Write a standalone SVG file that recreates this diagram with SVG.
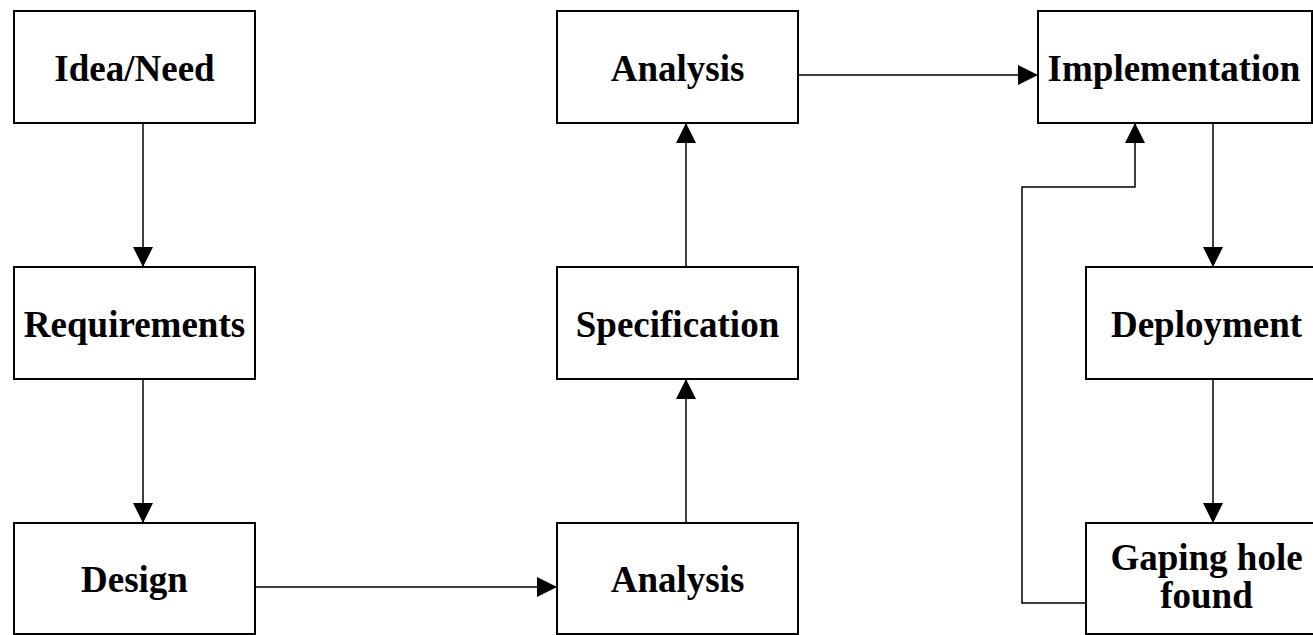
<svg xmlns="http://www.w3.org/2000/svg" width="1313" height="635" viewBox="0 0 1313 635">
<style>
.box{fill:#fff;stroke:#000;stroke-width:2}
.lbl{font-family:"Liberation Serif","Times New Roman",serif;font-weight:bold;font-size:37px;text-anchor:middle;fill:#000}
.edge{fill:none;stroke:#000;stroke-width:1.5;marker-end:url(#arr)}
</style>
<defs>
<marker id="arr" markerUnits="userSpaceOnUse" markerWidth="20" markerHeight="20" refX="20" refY="10" orient="auto" viewBox="0 0 20 20">
<path d="M0,0 L20,10 L0,20 Z" fill="#000"/>
</marker>
</defs>
<rect width="1313" height="635" fill="#fff"/>
<g id="connectors">
<path class="edge" d="M143,123 V267"/>
<path class="edge" d="M143,379 V523"/>
<path class="edge" d="M255,587 H557"/>
<path class="edge" d="M686,523 V379"/>
<path class="edge" d="M686,267 V123"/>
<path class="edge" d="M798,75 H1038"/>
<path class="edge" d="M1213,123 V267"/>
<path class="edge" d="M1213,379 V523"/>
<path class="edge" d="M1086,603 H1022 V187 H1135 V123"/>
</g>
<g id="idea">
<rect class="box" x="14" y="11" width="241" height="112"/>
<text class="lbl" x="134.5" y="81">Idea/Need</text>
</g>
<g id="requirements">
<rect class="box" x="14" y="267" width="241" height="112"/>
<text class="lbl" x="134.5" y="337">Requirements</text>
</g>
<g id="design">
<rect class="box" x="14" y="523" width="241" height="111"/>
<text class="lbl" x="134.5" y="592">Design</text>
</g>
<g id="analysis2">
<rect class="box" x="557" y="523" width="241" height="111"/>
<text class="lbl" x="677.5" y="592">Analysis</text>
</g>
<g id="specification">
<rect class="box" x="557" y="267" width="241" height="112"/>
<text class="lbl" x="677.5" y="337">Specification</text>
</g>
<g id="analysis1">
<rect class="box" x="557" y="11" width="241" height="112"/>
<text class="lbl" x="677.5" y="81">Analysis</text>
</g>
<g id="implementation">
<rect class="box" x="1038" y="11" width="274" height="112"/>
<text class="lbl" x="1174" y="81">Implementation</text>
</g>
<g id="deployment">
<rect class="box" x="1086" y="267" width="241" height="112"/>
<text class="lbl" x="1206.5" y="337">Deployment</text>
</g>
<g id="gaping">
<rect class="box" x="1086" y="523" width="241" height="111"/>
<text class="lbl" x="1206.5" y="570">Gaping hole</text>
<text class="lbl" x="1206.5" y="608">found</text>
</g>
</svg>
